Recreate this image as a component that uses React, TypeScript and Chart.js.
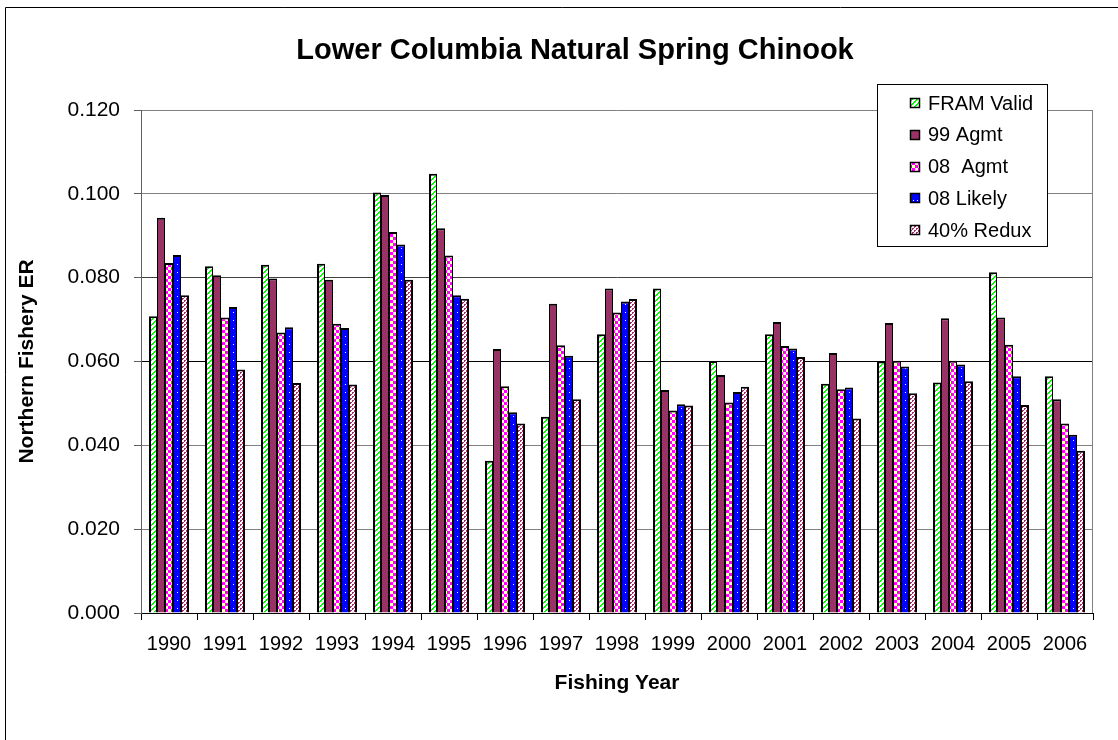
import React, { useEffect, useRef } from "react";
import { Chart, registerables } from "chart.js";

Chart.register(...registerables);

const FONT = '"Liberation Sans", Arial, Helvetica, sans-serif';

const chartTitle = "Lower Columbia Natural Spring Chinook";
const yAxisTitle = "Northern Fishery ER";
const xAxisTitle = "Fishing Year";

const years = ["1990", "1991", "1992", "1993", "1994", "1995", "1996", "1997", "1998", "1999", "2000", "2001", "2002", "2003", "2004", "2005", "2006"];

const seriesNames = ["FRAM Valid", "99 Agmt", "08  Agmt", "08 Likely", "40% Redux"];

const framValid = [0.0708, 0.0827, 0.0831, 0.0833, 0.1003, 0.1048, 0.0363, 0.0468, 0.0665, 0.0774, 0.0601, 0.0665, 0.0547, 0.0600, 0.0550, 0.0813, 0.0565];
const agmt99 = [0.0943, 0.0806, 0.0798, 0.0795, 0.0997, 0.0918, 0.0630, 0.0738, 0.0774, 0.0532, 0.0568, 0.0694, 0.0620, 0.0692, 0.0703, 0.0705, 0.0510];
const agmt08 = [0.0835, 0.0705, 0.0669, 0.0690, 0.0909, 0.0853, 0.0541, 0.0639, 0.0717, 0.0483, 0.0502, 0.0637, 0.0534, 0.0602, 0.0602, 0.0640, 0.0452];
const likely08 = [0.0854, 0.0730, 0.0682, 0.0680, 0.0879, 0.0758, 0.0479, 0.0614, 0.0743, 0.0498, 0.0527, 0.0631, 0.0538, 0.0588, 0.0593, 0.0565, 0.0425];
const redux40 = [0.0758, 0.0581, 0.0549, 0.0545, 0.0795, 0.0750, 0.0452, 0.0510, 0.0749, 0.0495, 0.0540, 0.0611, 0.0464, 0.0524, 0.0553, 0.0496, 0.0387];

const yMin = 0;
const yMax = 0.12;
const yStep = 0.02;

function pixelPattern(w: number, h: number, pick: (x: number, y: number) => string): CanvasPattern | string {
  const c = document.createElement("canvas");
  c.width = w;
  c.height = h;
  const g = c.getContext("2d");
  if (!g) return "#999";
  for (let y = 0; y < h; y++) {
    for (let x = 0; x < w; x++) {
      g.fillStyle = pick(x, y);
      g.fillRect(x, y, 1, 1);
    }
  }
  return g.createPattern(c, "repeat") || "#999";
}

function makeFills() {
  const fram = pixelPattern(5, 5, (x, y) => ((x + y) % 5 < 2 ? "#00FF00" : "#FFFFFF"));
  const a99 = "#993366";
  const a08 = pixelPattern(6, 6, (x, y) => ((Math.floor(x / 3) + Math.floor(y / 3)) % 2 === 0 ? "#FF00FF" : "#FFFFCC"));
  const l08 = pixelPattern(4, 8, (x, y) => (x === 1 && y === 0 ? "#FFFFFF" : "#0000FF"));
  const r40 = pixelPattern(4, 4, (x, y) => {
    const on = (x < 2 && y < 2 && !(x === 1 && y === 1)) || (x >= 2 && y >= 2 && !(x === 3 && y === 3));
    return on ? "#993366" : "#FFFFFF";
  });
  return [fram, a99, a08, l08, r40];
}

const framePlugin = {
  id: "framePlugin",
  beforeDraw(chart: any) {
    const ctx = chart.ctx;
    ctx.save();
    ctx.fillStyle = "#FFFFFF";
    ctx.fillRect(0, 0, chart.width, chart.height);
    ctx.strokeStyle = "#000000";
    ctx.lineWidth = 1;
    ctx.beginPath();
    ctx.moveTo(5.5, chart.height + 5);
    ctx.lineTo(5.5, 7.5);
    ctx.lineTo(chart.width + 5, 7.5);
    ctx.stroke();
    ctx.restore();
  },
  afterDatasetsDraw(chart: any) {
    const ctx = chart.ctx;
    const a = chart.chartArea;
    ctx.save();
    ctx.strokeStyle = "#808080";
    ctx.lineWidth = 1;
    ctx.beginPath();
    ctx.moveTo(Math.round(a.right) - 0.5, a.top);
    ctx.lineTo(Math.round(a.right) - 0.5, a.bottom);
    ctx.stroke();
    ctx.restore();
  },
  afterDraw(chart: any) {
    const ctx = chart.ctx;
    ctx.save();
    // title
    ctx.fillStyle = "#000000";
    ctx.font = `bold 29px ${FONT}`;
    ctx.textAlign = "center";
    ctx.textBaseline = "middle";
    ctx.fillText(chartTitle, 575, 51);
    // legend box
    const bx = 877.5, by = 84.5, bw = 170, bh = 162;
    ctx.fillStyle = "#FFFFFF";
    ctx.fillRect(bx, by, bw, bh);
    ctx.strokeStyle = "#000000";
    ctx.lineWidth = 1;
    ctx.strokeRect(bx, by, bw, bh);
    ctx.font = `20px ${FONT}`;
    ctx.textAlign = "left";
    chart.data.datasets.forEach((ds: any, i: number) => {
      const cy = 103 + i * 31.75;
      const ry = Math.round(cy - 5);
      ctx.fillStyle = ds.backgroundColor;
      ctx.fillRect(910, ry, 10, 10);
      ctx.strokeStyle = "#000000";
      ctx.lineWidth = 1.5;
      ctx.strokeRect(910.5, ry + 0.5, 9, 9);
      ctx.fillStyle = "#000000";
      ctx.fillText(ds.label, 928, cy + 1);
    });
    ctx.restore();
  },
};

export default function App() {
  const ref = useRef<HTMLCanvasElement | null>(null);

  useEffect(() => {
    const canvas = ref.current;
    if (!canvas) return;
    const fills = makeFills();
    const values = [framValid, agmt99, agmt08, likely08, redux40];
    const n = values.length;
    const chart = new Chart(canvas, {
      type: "bar",
      data: {
        labels: years,
        datasets: values.map((v, i) => ({
          label: seriesNames[i],
          data: v,
          backgroundColor: fills[i] as any,
          borderColor: "#000000",
          borderWidth: { left: i === 0 ? 2 : 1, right: i === n - 1 ? 2 : 1, top: 2, bottom: 0 },
          borderSkipped: "start",
          categoryPercentage: 5 / 7,
          barPercentage: 1,
        })),
      },
      options: {
        animation: false,
        responsive: false,
        devicePixelRatio: 1,
        layout: { padding: { left: 6, top: 110, right: 25, bottom: 27 } },
        plugins: {
          legend: { display: false },
          title: { display: false },
          tooltip: { enabled: false },
        },
        scales: {
          x: {
            offset: true,
            grid: {
              display: true,
              offset: true,
              drawOnChartArea: false,
              drawTicks: true,
              tickLength: 7,
              color: "#000000",
              tickColor: "#000000",
            },
            border: { display: true, color: "#000000", width: 1 },
            ticks: {
              color: "#000000",
              padding: 12,
              maxRotation: 0,
              autoSkip: false,
              font: { family: FONT, size: 20 },
            },
            title: {
              display: true,
              text: xAxisTitle,
              color: "#000000",
              font: { family: FONT, size: 21, weight: "bold" },
              padding: { top: 0, bottom: 17 },
            },
            afterFit: (s: any) => {
              s.height = 100;
            },
          },
          y: {
            min: yMin,
            max: yMax,
            grid: {
              display: true,
              drawOnChartArea: true,
              drawTicks: true,
              tickLength: 7,
              color: (c: any) => {
                const v = c.tick ? c.tick.value : 0;
                if (Math.abs(v - 0.06) < 1e-6) return "#000000";
                if (Math.abs(v - 0.08) < 1e-6) return "#404040";
                return "#808080";
              },
              tickColor: "#606060",
            },
            border: { display: true, color: "#606060", width: 1 },
            ticks: {
              stepSize: yStep,
              color: "#000000",
              padding: 14,
              font: { family: FONT, size: 21 },
              callback: (v: any) => Number(v).toFixed(3),
            },
            title: {
              display: true,
              text: yAxisTitle,
              color: "#000000",
              font: { family: FONT, size: 21, weight: "bold" },
              padding: { top: 9, bottom: 0 },
            },
            afterFit: (s: any) => {
              s.width = 135;
            },
          },
        },
      },
      plugins: [framePlugin],
    });
    return () => chart.destroy();
  }, []);

  return (
    <div style={{ position: "fixed", left: 0, top: 0, width: 1118, height: 740, overflow: "hidden", background: "#FFFFFF" }}>
      <canvas ref={ref} width={1118} height={740} style={{ display: "block", width: 1118, height: 740 }} />
    </div>
  );
}
